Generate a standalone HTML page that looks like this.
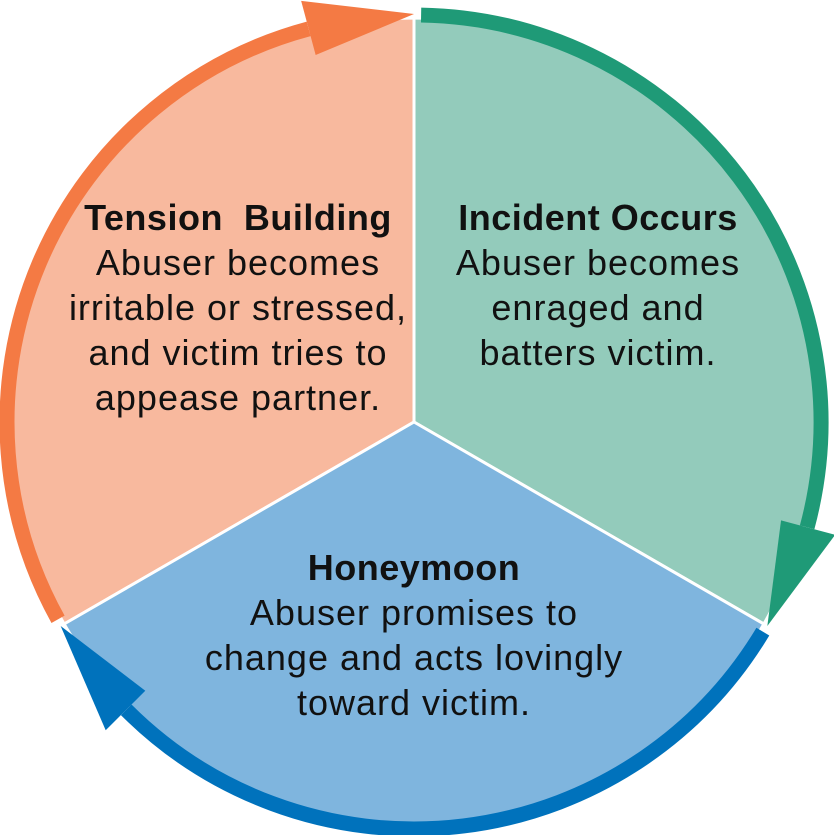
<!DOCTYPE html>
<html><head><meta charset="utf-8"><style>
html,body{margin:0;padding:0;background:#fff;}
svg{display:block;}
text{font-family:"Liberation Sans",sans-serif;font-size:36px;letter-spacing:1px;fill:#111;text-anchor:middle;white-space:pre;}
.b{font-weight:bold;letter-spacing:0.5px;}
</style></head><body>
<svg id="c" width="834" height="835" viewBox="0 0 834 835"></svg>
<script>
const phases = ["Tension Building","Incident Occurs","Honeymoon"];
const startAngles = [240, 0, 120];
const spans = [120, 120, 120];
const fills = ["#f8b99e","#93cbbb","#7fb5de"];
const rings = ["#f47a44","#1f9a77","#0072bc"];
const texts = [
  ["Tension  Building","Abuser becomes","irritable or stressed,","and victim tries to","appease partner."],
  ["Incident Occurs","Abuser becomes","enraged and","batters victim."],
  ["Honeymoon","Abuser promises to","change and acts lovingly","toward victim."]
];
const textPos = [[238,230],[598,230],[414,580]];
const NS="http://www.w3.org/2000/svg";
const svg=document.getElementById('c');
const cx=414, cy=422, R=404, RR=407;
function pt(a,r){const t=a*Math.PI/180;return [cx+r*Math.sin(t), cy-r*Math.cos(t)];}
function mk(tag,attrs){const e=document.createElementNS(NS,tag);for(const k in attrs)e.setAttribute(k,attrs[k]);svg.appendChild(e);return e;}
phases.forEach((p,i)=>{
  const a0=startAngles[i], a1=a0+spans[i];
  const s=pt(a0,R), e=pt(a1,R);
  const slice=mk('path',{d:`M${cx},${cy} L${s[0]},${s[1]} A${R},${R} 0 0 1 ${e[0]},${e[1]} Z`,fill:fills[i],stroke:'#fff','stroke-width':3});
  
  
});
phases.forEach((p,i)=>{
  const a0=startAngles[i], a1=a0+spans[i];
  const rs=pt(a0+1,RR), re=pt(a1-15,RR);
  const ring=mk('path',{d:`M${rs[0]},${rs[1]} A${RR},${RR} 0 0 1 ${re[0]},${re[1]}`,fill:'none',stroke:rings[i],'stroke-width':15});
  
  
  const tip=pt(a1,408), b1=pt(a1-15,380), b2=pt(a1-15,436);
  const arr=mk('polygon',{points:`${tip[0]},${tip[1]} ${b1[0]},${b1[1]} ${b2[0]},${b2[1]}`,fill:rings[i]});
  
  
  const tx=mk('text',{});
  
  
  texts[i].forEach((line,j)=>{
    const ts=document.createElementNS(NS,'tspan');
    ts.setAttribute('x',textPos[i][0]);
    ts.setAttribute('y',textPos[i][1]+j*45);
    if(j===0) ts.setAttribute('class','b');
    ts.textContent=line;
    tx.appendChild(ts);
  });
});
</script>
</body></html>
